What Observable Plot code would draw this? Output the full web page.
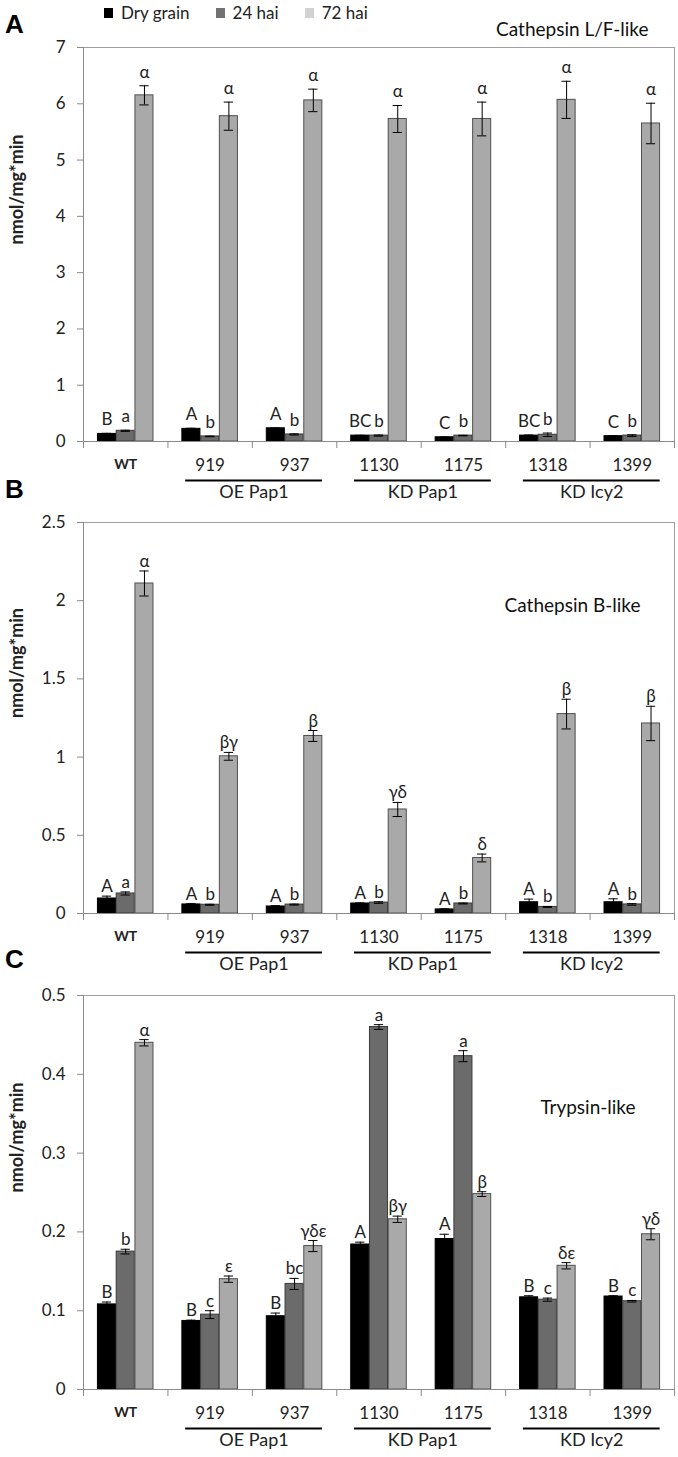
<!DOCTYPE html>
<html>
<head>
<meta charset="utf-8">
<script src="https://cdn.jsdelivr.net/npm/d3@7"></script>
<script src="https://cdn.jsdelivr.net/npm/@observablehq/plot@0.6"></script>
<style>
  body { margin: 0; background: #fff; font-family: Lato, "Open Sans", sans-serif; }
  #root { position: relative; width: 678px; height: 1457px; overflow: hidden; background: #fff; }
  .panel { position: absolute; left: 0; }
  .letter { position: absolute; left: 5px; font-family: "Liberation Sans", Arial, sans-serif; font-weight: bold; font-size: 26px; line-height: 26px; color: #000; }
  #legend { position: absolute; top: 2px; left: 104px; display: flex; align-items: center; font-size: 17px; color: #222; }
  #legend .item { display: flex; align-items: center; margin-right: 26px; }
  #legend .sw { width: 9px; height: 10px; margin-right: 8px; }
</style>
</head>
<body>
<div id="root">
  <div id="legend"></div>
  <div class="letter" style="top:11px">A</div>
  <div class="letter" style="top:476px">B</div>
  <div class="letter" style="top:946px">C</div>
</div>
<script>
// ---------- data ----------
const groups = ["WT", "919", "937", "1130", "1175", "1318", "1399"];
const series = ["Dry grain", "24 hai", "72 hai"];
const families = [
  {name: "OE Pap1", from: "919", to: "937"},
  {name: "KD Pap1", from: "1130", to: "1175"},
  {name: "KD Icy2", from: "1318", to: "1399"}
];

// Panel A: Cathepsin L/F-like
const lfDry = [0.135, 0.225, 0.235, 0.105, 0.075, 0.105, 0.095];
const lfDryErr = [0.01, 0.01, 0.005, 0.005, 0.005, 0.01, 0.005];
const lfDryLet = ["B", "A", "A", "BC", "C", "BC", "C"];
const lf24 = [0.19, 0.09, 0.125, 0.105, 0.105, 0.12, 0.105];
const lf24Err = [0.01, 0.005, 0.01, 0.01, 0.005, 0.03, 0.015];
const lf24Let = ["a", "b", "b", "b", "b", "b", "b"];
const lf72 = [6.15, 5.78, 6.06, 5.73, 5.73, 6.07, 5.65];
const lf72Err = [0.17, 0.25, 0.2, 0.24, 0.3, 0.33, 0.36];
const lf72Let = ["α", "α", "α", "α", "α", "α", "α"];
const lfTicks = [0, 1, 2, 3, 4, 5, 6, 7];

// Panel B: Cathepsin B-like
const bDry = [0.096, 0.058, 0.045, 0.064, 0.026, 0.072, 0.072];
const bDryErr = [0.015, 0.005, 0.005, 0.004, 0.004, 0.02, 0.022];
const bDryLet = ["A", "A", "A", "A", "A", "A", "A"];
const b24 = [0.128, 0.056, 0.057, 0.07, 0.064, 0.042, 0.058];
const b24Err = [0.01, 0.003, 0.003, 0.005, 0.003, 0.003, 0.005];
const b24Let = ["a", "b", "b", "b", "b", "b", "b"];
const b72 = [2.11, 1.005, 1.135, 0.665, 0.355, 1.275, 1.215];
const b72Err = [0.08, 0.025, 0.035, 0.045, 0.025, 0.095, 0.11];
const b72Let = ["α", "βγ", "β", "γδ", "δ", "β", "β"];
const bTicks = [0, 0.5, 1, 1.5, 2, 2.5];

// Panel C: Trypsin-like
const tDry = [0.108, 0.087, 0.093, 0.184, 0.191, 0.117, 0.118];
const tDryErr = [0.003, 0.001, 0.004, 0.003, 0.006, 0.002, 0.001];
const tDryLet = ["B", "B", "B", "A", "A", "B", "B"];
const t24 = [0.175, 0.095, 0.134, 0.46, 0.423, 0.114, 0.112];
const t24Err = [0.003, 0.005, 0.007, 0.003, 0.007, 0.002, 0.001];
const t24Let = ["b", "c", "bc", "a", "a", "c", "c"];
const t72 = [0.44, 0.14, 0.182, 0.216, 0.248, 0.157, 0.197];
const t72Err = [0.004, 0.004, 0.007, 0.004, 0.003, 0.004, 0.007];
const t72Let = ["α", "ε", "γδε", "βγ", "β", "δε", "γδ"];
const tTicks = [0, 0.1, 0.2, 0.3, 0.4, 0.5];

// ---------- style ----------
const fills = ["#000000", "#6b6b6b", "#a9a9a9"];
const strokes = ["#000000", "#3a3a3a", "#505050"];
const legendFills = ["#000000", "#727272", "#d2d2d2"];
const FONT = "Lato, 'Open Sans', sans-serif";

// legend
const legend = document.getElementById("legend");
series.forEach((s, i) => {
  const it = document.createElement("div");
  it.className = "item";
  it.innerHTML = `<span class="sw" style="background:${legendFills[i]}"></span><span>${s}</span>`;
  legend.appendChild(it);
});

// bar geometry within a group (in group units)
const barW = 0.214, barStep = 0.222, capW = 0.055;
const xc = d => d.gi + 0.5 + (d.si - 1) * barStep;

function panel(cfg) {
  const rows = groups.flatMap((g, gi) => series.map((s, si) => ({
    g, gi, s, si,
    v: cfg.values[si][gi], e: cfg.errs[si][gi], l: cfg.letters[si][gi]
  })));
  const marks = [];
  marks.push(Plot.frame({stroke: "#a0a0a0"}));
  for (let si = 0; si < 3; si++) {
    marks.push(Plot.rect(rows.filter(d => d.si === si), {
      x1: d => xc(d) - barW / 2, x2: d => xc(d) + barW / 2,
      y1: () => 0, y2: "v",
      fill: fills[si], stroke: strokes[si], strokeWidth: 1
    }));
  }
  const er = rows.filter(d => d.e > 0);
  marks.push(
    Plot.ruleX(er, {x: xc, y1: d => d.v - d.e, y2: d => d.v + d.e, stroke: "#000", strokeWidth: 1}),
    Plot.ruleY(er, {y: d => d.v + d.e, x1: d => xc(d) - capW, x2: d => xc(d) + capW, stroke: "#000", strokeWidth: 1}),
    Plot.ruleY(er, {y: d => d.v - d.e, x1: d => xc(d) - capW, x2: d => xc(d) + capW, stroke: "#000", strokeWidth: 1}),
    Plot.text(rows, {x: xc, y: d => d.v + d.e, text: "l", lineAnchor: "bottom", dy: cfg.letterDy, fontSize: 17, fill: "#222"}),
    Plot.ruleY([0], {stroke: "#8a8a8a"}),
    Plot.axisY({ticks: cfg.ticks, tickFormat: d => String(d), tickSize: 6, tickPadding: 12, fontSize: 17, label: null, stroke: "#8a8a8a", fill: "#222"}),
    Plot.ruleX([0], {stroke: "#8a8a8a"}),
    Plot.axisX({ticks: d3.range(groups.length + 1), tickSize: 7, tickFormat: () => "", label: null, stroke: "#8a8a8a"}),
    Plot.text(["nmol/mg*min"], {text: d => d, frameAnchor: "left", rotate: -90, dx: -66, fontSize: 18, fontWeight: "bold", fill: "#222"}),
    Plot.text([cfg.title], {text: d => d, frameAnchor: "top-right", textAnchor: "end", dx: cfg.titleDx, dy: cfg.titleDy, fontSize: 19, fill: "#111"}),
    Plot.text(groups.filter(g => g === "WT"), {text: d => d, x: d => groups.indexOf(d) + 0.5, frameAnchor: "bottom", dy: 27, fontSize: 14, fontWeight: "bold", fill: "#222"}),
    Plot.text(groups.filter(g => g !== "WT"), {text: d => d, x: d => groups.indexOf(d) + 0.5, frameAnchor: "bottom", dy: 29, fontSize: 17, fill: "#222"}),
    Plot.ruleY(families, {y: () => 0, x1: d => groups.indexOf(d.from) + 0.21, x2: d => groups.indexOf(d.to) + 0.83, dy: 39, stroke: "#000", strokeWidth: 2}),
    Plot.text(families, {text: "name", x: d => (groups.indexOf(d.from) + groups.indexOf(d.to) + 1) / 2 + 0.02, frameAnchor: "bottom", dy: 56, fontSize: 18, fill: "#222"})
  );
  const chart = Plot.plot({
    width: 678,
    height: cfg.height,
    marginLeft: 83,
    marginRight: 4,
    marginTop: cfg.marginTop,
    marginBottom: cfg.marginBottom,
    x: {domain: [0, groups.length]},
    y: {domain: [0, cfg.ticks[cfg.ticks.length - 1]]},
    style: {fontFamily: FONT, background: "transparent", color: "#222", overflow: "visible"},
    marks
  });
  const wrap = document.createElement("div");
  wrap.className = "panel";
  wrap.style.top = cfg.top + "px";
  wrap.appendChild(chart);
  document.getElementById("root").appendChild(wrap);
}

panel({
  title: "Cathepsin L/F-like", top: 0, height: 505, marginTop: 47, marginBottom: 64,
  values: [lfDry, lf24, lf72], errs: [lfDryErr, lf24Err, lf72Err], letters: [lfDryLet, lf24Let, lf72Let],
  ticks: lfTicks, titleDx: -26, titleDy: -25, letterDy: -8
});
panel({
  title: "Cathepsin B-like", top: 505, height: 475, marginTop: 17, marginBottom: 67,
  values: [bDry, b24, b72], errs: [bDryErr, b24Err, b72Err], letters: [bDryLet, b24Let, b72Let],
  ticks: bTicks, titleDx: -34, titleDy: 76, letterDy: -4
});
panel({
  title: "Trypsin-like", top: 980, height: 477, marginTop: 15, marginBottom: 68,
  values: [tDry, t24, t72], errs: [tDryErr, t24Err, t72Err], letters: [tDryLet, t24Let, t72Let],
  ticks: tTicks, titleDx: -39, titleDy: 105, letterDy: -4
});
</script>
</body>
</html>
